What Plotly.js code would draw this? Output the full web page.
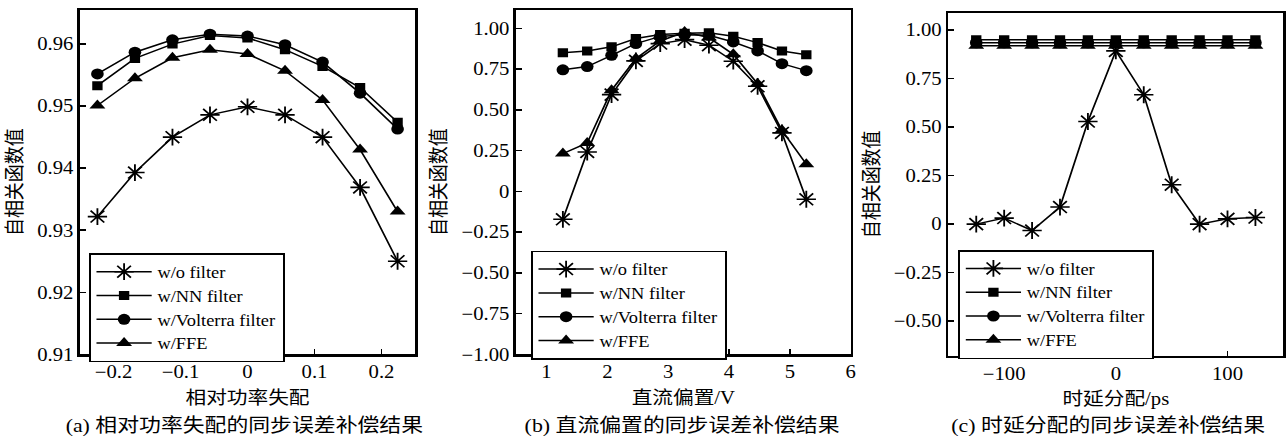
<!DOCTYPE html>
<html>
<head>
<meta charset="utf-8">
<script src="https://cdn.plot.ly/plotly-3.0.1.min.js"></script>
<style>
  html, body { margin: 0; padding: 0; background: #fff; overflow: hidden; }
  #wrap { width: 1286px; height: 439px; overflow: hidden; }
  #chart { width: 1118px; height: 439px; transform: scaleX(1.1503); transform-origin: 0 0; }
</style>
</head>
<body>
<div id="wrap"><div id="chart"></div></div>
<script>
// ---------- data ----------
const seriesNames = ["w/o filter", "w/NN filter", "w/Volterra filter", "w/FFE"];

// (a) relative power mismatch
const xA = [-0.224, -0.168, -0.112, -0.056, 0, 0.056, 0.112, 0.168, 0.224];
const woA = [0.9322, 0.9393, 0.9450, 0.9486, 0.9499, 0.9486, 0.9450, 0.9369, 0.9250];
const nnA = [0.9533, 0.9577, 0.9600, 0.9614, 0.9610, 0.9591, 0.9564, 0.9530, 0.9474];
const voA = [0.9552, 0.9587, 0.9607, 0.9616, 0.9613, 0.9599, 0.9571, 0.9521, 0.9463];
const ffA = [0.9501, 0.9545, 0.9578, 0.9591, 0.9584, 0.9557, 0.9510, 0.9430, 0.9330];

// (b) DC bias / V
const xB = [1.27, 1.67, 2.07, 2.47, 2.87, 3.27, 3.67, 4.07, 4.47, 4.87, 5.27];
const woB = [-0.172, 0.241, 0.593, 0.800, 0.906, 0.930, 0.896, 0.798, 0.644, 0.358, -0.049];
const nnB = [0.849, 0.861, 0.886, 0.937, 0.961, 0.970, 0.973, 0.951, 0.912, 0.861, 0.838];
const voB = [0.745, 0.765, 0.834, 0.906, 0.950, 0.960, 0.957, 0.916, 0.861, 0.783, 0.740];
const ffB = [0.231, 0.296, 0.620, 0.814, 0.922, 0.977, 0.943, 0.840, 0.660, 0.374, 0.166];

// (c) delay mismatch / ps
const xC = [-125, -100, -75, -50, -25, 0, 25, 50, 75, 100, 125];
const woC = [0.000, 0.031, -0.033, 0.088, 0.529, 0.893, 0.667, 0.203, 0.000, 0.027, 0.034];
const nnC = [0.950, 0.950, 0.950, 0.950, 0.950, 0.950, 0.950, 0.950, 0.950, 0.950, 0.950];
const voC = [0.935, 0.935, 0.935, 0.935, 0.935, 0.935, 0.935, 0.935, 0.935, 0.935, 0.935];
const ffC = [0.920, 0.920, 0.920, 0.920, 0.920, 0.920, 0.920, 0.920, 0.920, 0.920, 0.920];

// tick labels
const tickValsB = [-1, -0.75, -0.5, -0.25, 0, 0.25, 0.5, 0.75, 1];
const tickTextB = ["\u22121.00", "\u22120.75", "\u22120.50", "\u22120.25", "0", "0.25", "0.50", "0.75", "1.00"];
const tickValsC = [-0.5, -0.25, 0, 0.25, 0.5, 0.75, 1];
const tickTextC = ["\u22120.50", "\u22120.25", "0", "0.25", "0.50", "0.75", "1.00"];

const xTitles = ["相对功率失配", "直流偏置/V", "时延分配/ps"];
const yTitle = "自相关函数值";
const captions = ["(a) 相对功率失配的同步误差补偿结果", "(b) 直流偏置的同步误差补偿结果", "(c) 时延分配的同步误差补偿结果"];

// ---------- styles ----------
const SERIF = "Liberation Serif, Times New Roman, serif";
const CJK = "Liberation Serif, Noto Sans CJK SC, serif";
const markerStyles = [
  {symbol: "asterisk-open", size: 14, color: "black", line: {width: 1.6, color: "black"}},
  {symbol: "square", size: 9, color: "black", line: {width: 0}},
  {symbol: "circle", size: 11, color: "black", line: {width: 0}},
  {symbol: "triangle-up", size: 12, color: "black", line: {width: 0}}
];

function mk(x, y, i, ax, lg) {
  return {
    x: x, y: y, type: "scatter", mode: "lines+markers",
    name: seriesNames[i],
    xaxis: "x" + (ax === 1 ? "" : ax), yaxis: "y" + (ax === 1 ? "" : ax),
    legend: lg,
    line: {color: "black", width: 1.5},
    marker: markerStyles[i]
  };
}

const data = [
  mk(xA, woA, 0, 1, "legend"), mk(xA, nnA, 1, 1, "legend"), mk(xA, voA, 2, 1, "legend"), mk(xA, ffA, 3, 1, "legend"),
  mk(xB, woB, 0, 2, "legend2"), mk(xB, nnB, 1, 2, "legend2"), mk(xB, voB, 2, 2, "legend2"), mk(xB, ffB, 3, 2, "legend2"),
  mk(xC, woC, 0, 3, "legend3"), mk(xC, nnC, 1, 3, "legend3"), mk(xC, voC, 2, 3, "legend3"), mk(xC, ffC, 3, 3, "legend3")
];

const W = 1286;
function axBase() {
  return {
    showline: true, linecolor: "black", linewidth: 2.2, mirror: true,
    ticks: "inside", ticklen: 5, tickwidth: 1.5, tickcolor: "black",
    showgrid: false, zeroline: false,
    tickfont: {family: SERIF, size: 18, color: "black"}
  };
}
function xax(dom, range, dtick, title, anchor) {
  return Object.assign(axBase(), {
    domain: dom, range: range, dtick: dtick, tick0: 0, anchor: anchor,
    title: {text: title, font: {family: CJK, size: 18, color: "black"}, standoff: 10}
  });
}
function yax(dom, range, anchor, extra) {
  return Object.assign(axBase(), {
    domain: dom, range: range, anchor: anchor,
    title: {text: yTitle, font: {family: CJK, size: 18, color: "black"}, standoff: 8}
  }, extra);
}
function legendAt(xpx, ypx) {
  return {
    x: xpx / W, y: 1 - ypx / 439, xanchor: "left", yanchor: "top",
    bgcolor: "white", bordercolor: "black", borderwidth: 1.5,
    font: {family: SERIF, size: 16, color: "black"},
    itemwidth: 48,
    tracegroupgap: 0
  };
}

const layout = {
  width: 1118, height: 439,
  margin: {l: 0, r: 0, t: 0, b: 0},
  paper_bgcolor: "white", plot_bgcolor: "white",
  showlegend: true,
  xaxis: xax([80 / W, 415 / W], [-0.25, 0.25], 0.1, xTitles[0], "y"),
  yaxis: yax([1 - 354.3 / 439, 1 - 10 / 439], [0.91, 0.9655], "x", {dtick: 0.01, tick0: 0.91}),
  xaxis2: xax([516 / W, 850.7 / W], [0.5, 6], 1, xTitles[1], "y2"),
  yaxis2: yax([1 - 354.3 / 439, 1 - 10 / 439], [-1, 1.112], "x2", {tickmode: "array", tickvals: tickValsB, ticktext: tickTextB}),
  xaxis3: xax([948.3 / W, 1283.3 / W], [-150, 150], 100, xTitles[2], "y3"),
  yaxis3: yax([1 - 356 / 439, 1 - 12.7 / 439], [-0.68, 1.09], "x3", {tickmode: "array", tickvals: tickValsC, ticktext: tickTextC}),
  legend: legendAt(89, 253.3),
  legend2: legendAt(531, 250.7),
  legend3: legendAt(958.3, 250),
  annotations: [
    {text: captions[0], x: 244 / W, y: 1 - 426 / 439},
    {text: captions[1], x: 681.7 / W, y: 1 - 426 / 439},
    {text: captions[2], x: 1108 / W, y: 1 - 426 / 439}
  ].map(a => Object.assign(a, {
    xref: "paper", yref: "paper", xanchor: "center", yanchor: "middle", showarrow: false,
    font: {family: CJK, size: 19, color: "black"}
  }))
};

Plotly.newPlot("chart", data, layout, {displayModeBar: false, staticPlot: true});
</script>
</body>
</html>
